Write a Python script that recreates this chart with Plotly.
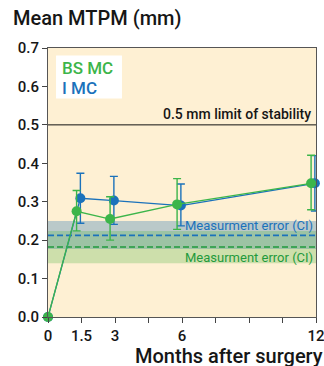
import plotly.graph_objects as go

# ---- data ----
months = [0, 1.5, 3, 6, 12]
bs_mean = [0.0, 0.275, 0.255, 0.293, 0.348]
bs_upper = [0.0, 0.329, 0.313, 0.360, 0.421]
bs_lower = [0.0, 0.224, 0.200, 0.228, 0.279]
i_mean = [0.0, 0.309, 0.303, 0.290, 0.348]
i_upper = [0.0, 0.374, 0.366, 0.346, 0.420]
i_lower = [0.0, 0.244, 0.241, 0.237, 0.276]
limit_stability = 0.5
i_err_center, i_err_lo, i_err_hi = 0.2125, 0.177, 0.25
bs_err_center, bs_err_lo, bs_err_hi = 0.182, 0.14, 0.224
x_ticks = [0, 1.5, 3, 4.5, 6, 7.5, 9, 10.5, 12]
x_ticklabels = ["0", "1.5", "3", "", "6", "", "", "", "12"]
y_ticks = [0, 0.1, 0.2, 0.3, 0.4, 0.5, 0.6, 0.7]

GREEN = "#3cb54a"
BLUE = "#1b72bb"
DGREEN = "#1f9a3c"
TXT = "#161616"
FONT = "Roboto"
W = 500

# dodge offsets (style)
bs_off = -0.22
i_off = -0.05


def dodge(xs, off):
    return [x + (off if x > 0 else 0) for x in xs]


def errs(mean, up, lo):
    return [u - m for u, m in zip(up, mean)], [m - l for m, l in zip(mean, lo)]


fig = go.Figure()

i_plus, i_minus = errs(i_mean, i_upper, i_lower)
bs_plus, bs_minus = errs(bs_mean, bs_upper, bs_lower)

fig.add_trace(go.Scatter(
    x=dodge(months, i_off), y=i_mean, mode="lines+markers",
    line=dict(color=BLUE, width=1.3),
    marker=dict(color=BLUE, size=10),
    error_y=dict(type="data", symmetric=False, array=i_plus, arrayminus=i_minus,
                 color=BLUE, thickness=1.4, width=4),
    cliponaxis=False, showlegend=False, hoverinfo="skip"))

fig.add_trace(go.Scatter(
    x=dodge(months, bs_off), y=bs_mean, mode="lines+markers",
    line=dict(color=GREEN, width=1.3),
    marker=dict(color=GREEN, size=10),
    error_y=dict(type="data", symmetric=False, array=bs_plus, arrayminus=bs_minus,
                 color=GREEN, thickness=1.4, width=4),
    cliponaxis=False, showlegend=False, hoverinfo="skip"))

shapes = [
    dict(type="rect", xref="paper", yref="y", x0=0, x1=1, y0=i_err_lo, y1=i_err_hi,
         fillcolor="rgba(30,112,180,0.30)", line=dict(width=0), layer="below"),
    dict(type="rect", xref="paper", yref="y", x0=0, x1=1, y0=bs_err_lo, y1=bs_err_hi,
         fillcolor="rgba(80,180,70,0.28)", line=dict(width=0), layer="below"),
    dict(type="line", xref="paper", yref="y", x0=0, x1=1, y0=i_err_center, y1=i_err_center,
         line=dict(color=BLUE, width=1.6, dash="6px,3px"), layer="below"),
    dict(type="line", xref="paper", yref="y", x0=0, x1=1, y0=bs_err_center, y1=bs_err_center,
         line=dict(color=DGREEN, width=1.6, dash="6px,3px"), layer="below"),
    dict(type="line", xref="paper", yref="y", x0=0, x1=1, y0=limit_stability, y1=limit_stability,
         line=dict(color="#111", width=1), layer="below"),
    # legend box
    dict(type="rect", xref="paper", yref="paper", x0=0.03, x1=0.276, y0=0.812, y1=0.972,
         fillcolor="white", line=dict(width=0), layer="below"),
]

annotations = [
    dict(text="BS MC", xref="paper", yref="paper", x=0.045, y=0.925, xanchor="left",
         yanchor="middle", showarrow=False, font=dict(family=FONT, size=17, weight=W, color=GREEN)),
    dict(text="I MC", xref="paper", yref="paper", x=0.045, y=0.85, xanchor="left",
         yanchor="middle", showarrow=False, font=dict(family=FONT, size=17, weight=W, color=BLUE)),
    dict(text="0.5 mm limit of stability", xref="paper", yref="y", x=0.99, y=limit_stability,
         xanchor="right", yanchor="bottom", yshift=1, showarrow=False,
         font=dict(family=FONT, size=14, weight=W, color=TXT)),
    dict(text="Measurment error (CI)", xref="paper", yref="y", x=0.995, y=i_err_center,
         xanchor="right", yanchor="bottom", yshift=0, showarrow=False,
         font=dict(family=FONT, size=13, color=BLUE)),
    dict(text="Measurment error (CI)", xref="paper", yref="y", x=0.995, y=bs_err_center,
         xanchor="right", yanchor="top", yshift=-1, showarrow=False,
         font=dict(family=FONT, size=13, color=DGREEN)),
    dict(text="Months after surgery", xref="paper", yref="paper", x=1.028, y=-0.194,
         xanchor="right", yanchor="bottom", showarrow=False, borderpad=0,
         font=dict(family=FONT, size=20, weight=W, color=TXT)),
]

fig.update_layout(
    width=324, height=366,
    margin=dict(l=48, r=8, t=48, b=49, autoexpand=False),
    paper_bgcolor="white", plot_bgcolor="#fef0d3",
    shapes=shapes, annotations=annotations,
    title=dict(text="Mean MTPM (mm)", x=13 / 324, xanchor="left", xref="container",
               y=1 - 18 / 366, yanchor="middle",
               font=dict(family=FONT, size=20, weight=W, color=TXT)),
    font=dict(family=FONT, color=TXT),
    hovermode=False,
    xaxis=dict(range=[0, 12], tickvals=x_ticks, ticktext=x_ticklabels, automargin=False,
               ticks="outside", ticklen=5, tickcolor="#444", showgrid=False, zeroline=False,
               showline=True, linecolor="#555", linewidth=1, mirror=True,
               ticklabeloverflow="allow",
               tickfont=dict(family=FONT, size=15, weight=W, color=TXT)),
    yaxis=dict(range=[0, 0.7], tickvals=y_ticks, tickformat=".1f", automargin=False,
               ticks="outside", ticklen=5, tickcolor="#444", showgrid=False, zeroline=False,
               showline=True, linecolor="#555", linewidth=1, mirror=True,
               tickfont=dict(family=FONT, size=15, weight=W, color=TXT)),
)

fig.write_html("out.html", config={"displayModeBar": False, "staticPlot": True},
               post_script="document.body.style.margin='0';document.body.style.overflow='hidden';")
